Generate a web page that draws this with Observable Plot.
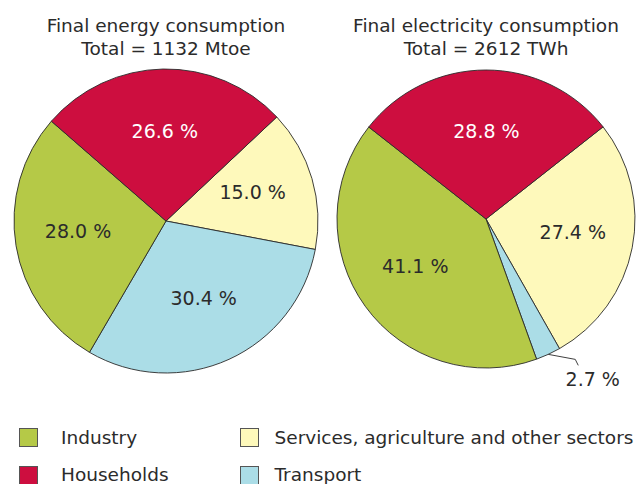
<!DOCTYPE html>
<html>
<head>
<meta charset="utf-8">
<script src="https://cdn.jsdelivr.net/npm/d3@7"></script>
<script src="https://cdn.jsdelivr.net/npm/@observablehq/plot@0.6"></script>
<style>
  body { margin: 0; background: #fff; font-family: "DejaVu Sans", Verdana, sans-serif; color: #2b2b2b; }
  #root { position: relative; width: 638px; height: 484px; overflow: hidden; }
  .title { position: absolute; top: 15px; width: 319px; text-align: center; font-size: 18.5px; line-height: 22.5px; white-space: nowrap; }
  .pie { position: absolute; top: 59px; }
  .sw { position: absolute; width: 17px; height: 17px; border: 1px solid #555; box-sizing: content-box; }
  .lt { position: absolute; font-size: 18.5px; line-height: 22px; white-space: nowrap; }
</style>
</head>
<body>
<div id="root"></div>
<script>
// ---- data ----
const sectors = ["Services, agriculture and other sectors", "Transport", "Industry", "Households"];
const energyShares = [15.0, 30.4, 28.0, 26.6];        // Final energy consumption, %
const electricityShares = [27.4, 2.7, 41.1, 28.8];    // Final electricity consumption, %
const sectorColors = ["#fef9bb", "#abdde7", "#b5c947", "#cd0e3f"];
const legendOrder = ["Industry", "Households", "Services, agriculture and other sectors", "Transport"];
const titles = [
  ["Final energy consumption", "Total = 1132 Mtoe"],
  ["Final electricity consumption", "Total = 2612 TWh"]
];

const root = document.getElementById("root");
const textColor = "#2b2b2b";
const font = '"DejaVu Sans", Verdana, sans-serif';

function pieChart(shares, opt) {
  const data = sectors.map((s, i) => ({sector: s, value: shares[i]}));
  const a0 = opt.startDeg * Math.PI / 180;
  const arcs = d3.pie().sort(null).value(d => d.value).startAngle(a0).endAngle(a0 + 2 * Math.PI)(data);
  const labels = arcs.map(a => {
    const m = (a.startAngle + a.endAngle) / 2;
    return {sector: a.data.sector, value: a.data.value, mid: m,
            x: Math.sin(m) * 0.59, y: Math.cos(m) * 0.59,
            ex: Math.sin(m), ey: Math.cos(m), small: a.data.value < 5};
  });
  const fmt = d => d.value.toFixed(1) + " %";

  const slices = (index, scales) => {
    const cx = scales.x(0), cy = scales.y(0), rr = scales.x(1) - scales.x(0);
    const arc = d3.arc().innerRadius(0).outerRadius(rr);
    const g = d3.create("svg:g").attr("transform", `translate(${cx},${cy})`);
    g.selectAll("path").data(arcs).join("path")
      .attr("d", arc)
      .attr("fill", (d, i) => scales.color ? scales.color(d.data.sector) : sectorColors[i])
      .attr("stroke", "#2a2a2a")
      .attr("stroke-width", 0.9)
      .attr("stroke-linejoin", "round");
    return g.node();
  };

  const leaders = (index, scales) => {
    const g = d3.create("svg:g").attr("fill", "none").attr("stroke", "#2a2a2a").attr("stroke-width", 0.9);
    for (const d of labels.filter(d => d.small)) {
      const x0 = scales.x(d.ex), y0 = scales.y(d.ey);
      g.append("path").attr("d", `M${x0},${y0}L${x0 + 27},${y0 + 5}L${x0 + 30},${y0 + 11}`);
    }
    return g.node();
  };

  return Plot.plot({
    width: opt.width, height: opt.height, margin: 0,
    style: {fontFamily: font, background: "transparent", overflow: "visible"},
    x: {domain: [-1, 1], range: [opt.cx - opt.r, opt.cx + opt.r], axis: null},
    y: {domain: [-1, 1], range: [opt.cy + opt.r, opt.cy - opt.r], axis: null},
    color: {domain: sectors, range: sectorColors},
    marks: [
      Plot.dot(labels, {x: "x", y: "y", fill: "sector", r: 0}),
      slices,
      leaders,
      Plot.text(labels.filter(d => !d.small && d.sector !== "Households"),
        {x: "x", y: "y", dy: -4, text: fmt, fill: textColor, fontSize: 19}),
      Plot.text(labels.filter(d => !d.small && d.sector === "Households"),
        {x: "x", y: "y", text: fmt, fill: "white", fontSize: 19}),
      Plot.text(labels.filter(d => d.small),
        {x: "ex", y: "ey", dx: 44, dy: 25, text: fmt, fill: textColor, fontSize: 19})
    ]
  });
}

const pieOpts = [
  {startDeg: 46.8, cx: 166, cy: 162, r: 152, width: 319, height: 341},
  {startDeg: 51.8, cx: 167, cy: 160, r: 149, width: 319, height: 341}
];
const pies = [pieChart(energyShares, pieOpts[0]), pieChart(electricityShares, pieOpts[1])];

pies.forEach((svg, i) => {
  const t = document.createElement("div");
  t.className = "title";
  t.style.left = (i * 319 + pieOpts[i].cx - 159.5) + "px";
  t.innerHTML = titles[i].map(s => `<div>${s}</div>`).join("");
  root.appendChild(t);
  const w = document.createElement("div");
  w.className = "pie";
  w.style.left = (i * 319) + "px";
  w.appendChild(svg);
  root.appendChild(w);
});

// legend (two columns)
const colX = [[18.5, 61], [239.5, 274.5]];
const rowTop = [[428, 427], [466, 464.3]];
legendOrder.forEach((name, k) => {
  const col = Math.floor(k / 2), row = k % 2;
  const sw = document.createElement("div");
  sw.className = "sw";
  sw.style.left = colX[col][0] + "px";
  sw.style.top = rowTop[row][0] + "px";
  sw.style.background = sectorColors[sectors.indexOf(name)];
  root.appendChild(sw);
  const lt = document.createElement("div");
  lt.className = "lt";
  lt.style.left = colX[col][1] + "px";
  lt.style.top = rowTop[row][1] + "px";
  lt.textContent = name;
  root.appendChild(lt);
});
</script>
</body>
</html>
